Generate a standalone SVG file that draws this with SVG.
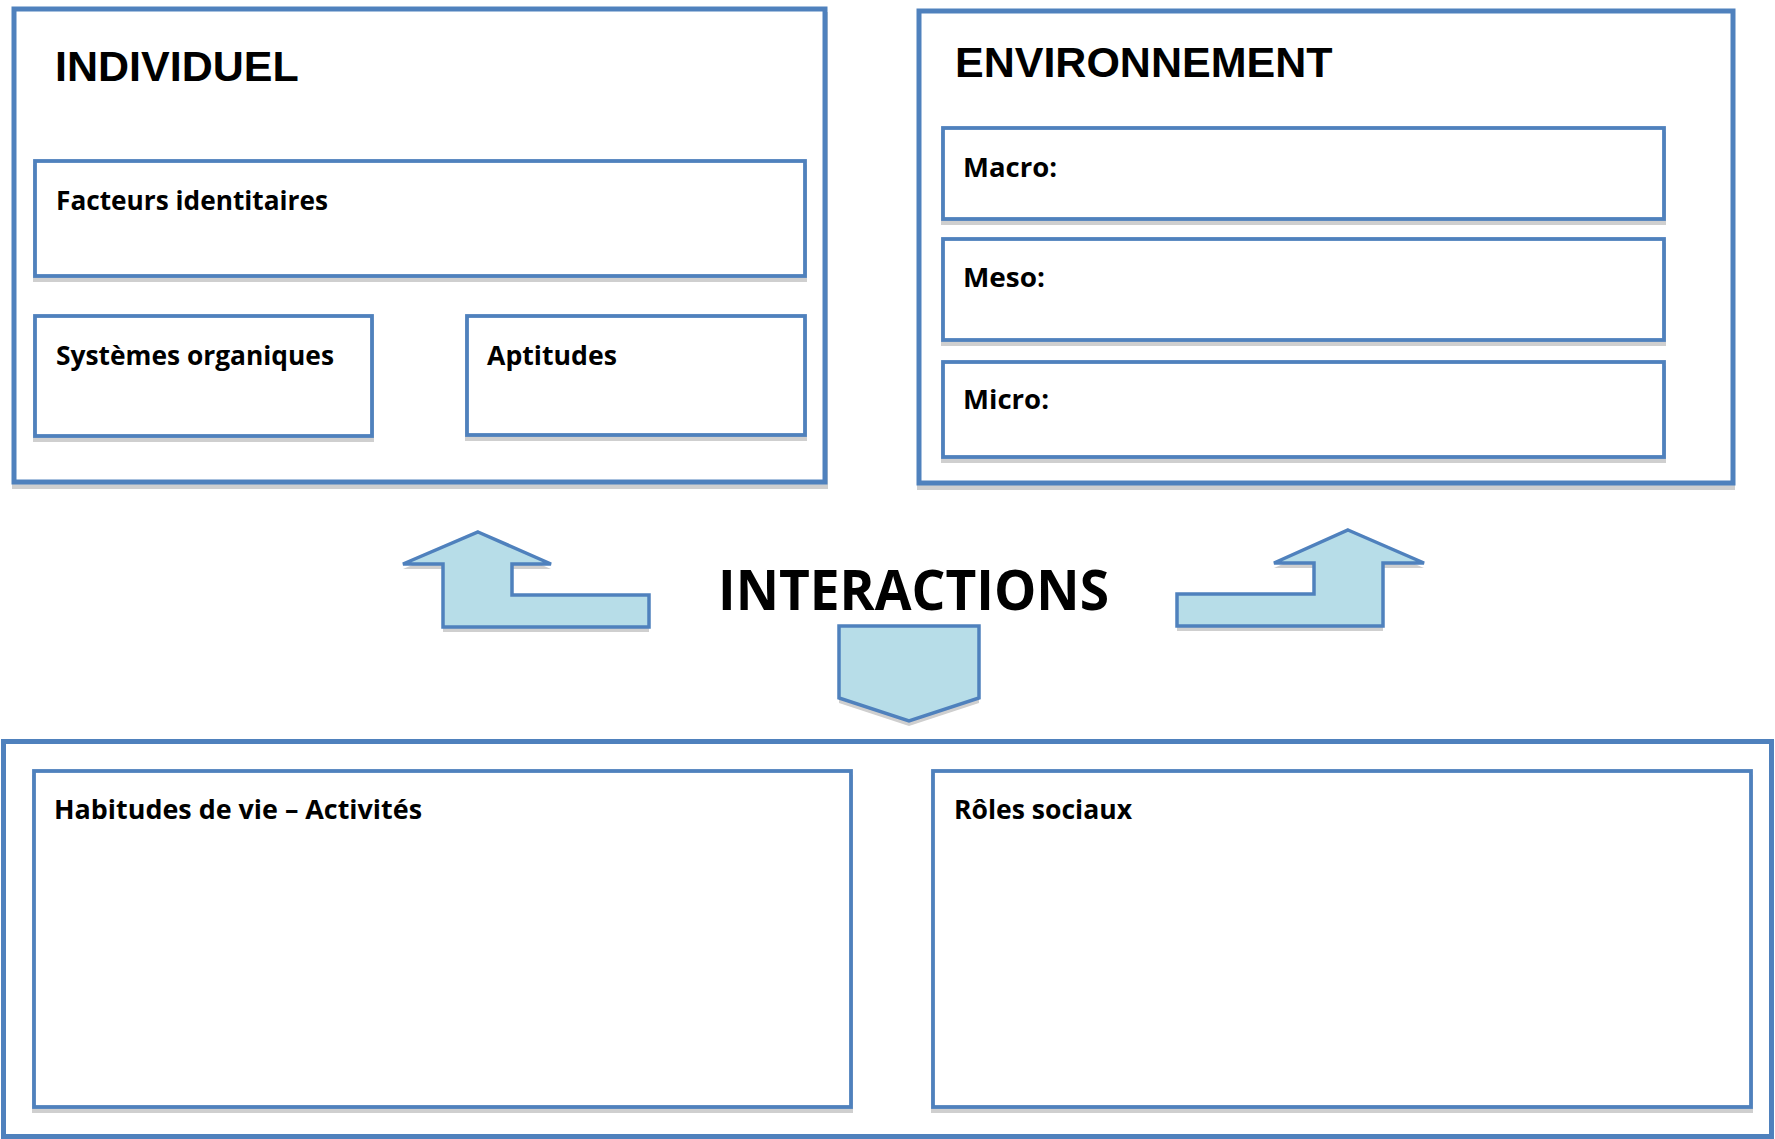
<svg xmlns="http://www.w3.org/2000/svg" width="1775" height="1139" viewBox="0 0 1775 1139">
<style>
.outer{fill:#fff;stroke:#4F81BD;stroke-width:5}
.inner{fill:#fff;stroke:#4F81BD;stroke-width:3.8}
.shadow{fill:#cfcfcf;stroke:none}
.arrow{fill:#B7DDE8;stroke:#4F81BD;stroke-width:3.5;stroke-linejoin:miter}
.head{font-family:"Liberation Sans",Arial,sans-serif;font-weight:700;font-size:43px;fill:#000}
.lbl{font-family:"Open Sans","Noto Sans",sans-serif;font-weight:700;font-size:27px;fill:#000}
.big{font-family:"Open Sans","Noto Sans",sans-serif;font-weight:700;font-size:55px;fill:#000}
</style>
<rect width="1775" height="1139" fill="#fff"/>

<g id="individuel">
<rect class="shadow" x="12" y="12" width="816" height="477"/>
<rect class="outer" x="14" y="9" width="811" height="473"/>
<text class="head" x="55" y="81">INDIVIDUEL</text>
</g>
<g id="facteurs">
<rect class="shadow" x="33" y="165" width="774" height="117"/>
<rect class="inner" x="35" y="161" width="770" height="115"/>
<text class="lbl" x="56" y="210" textLength="272" lengthAdjust="spacingAndGlyphs">Facteurs identitaires</text>
</g>
<g id="systemes">
<rect class="shadow" x="33" y="320" width="341" height="122"/>
<rect class="inner" x="35" y="316" width="337" height="120"/>
<text class="lbl" x="56" y="365" textLength="278" lengthAdjust="spacingAndGlyphs">Systèmes organiques</text>
</g>
<g id="aptitudes">
<rect class="shadow" x="465" y="320" width="342" height="121"/>
<rect class="inner" x="467" y="316" width="338" height="119"/>
<text class="lbl" x="487" y="365" textLength="130" lengthAdjust="spacingAndGlyphs">Aptitudes</text>
</g>

<g id="environnement">
<rect class="shadow" x="917" y="14" width="818" height="476"/>
<rect class="outer" x="919" y="11" width="814" height="472"/>
<text class="head" x="955" y="77">ENVIRONNEMENT</text>
</g>
<g id="macro">
<rect class="shadow" x="941" y="132" width="725" height="93"/>
<rect class="inner" x="943" y="128" width="721" height="91"/>
<text class="lbl" x="963" y="177" textLength="94" lengthAdjust="spacingAndGlyphs">Macro:</text>
</g>
<g id="meso">
<rect class="shadow" x="941" y="243" width="725" height="103"/>
<rect class="inner" x="943" y="239" width="721" height="101"/>
<text class="lbl" x="963" y="287" textLength="82" lengthAdjust="spacingAndGlyphs">Meso:</text>
</g>
<g id="micro">
<rect class="shadow" x="941" y="366" width="725" height="97"/>
<rect class="inner" x="943" y="362" width="721" height="95"/>
<text class="lbl" x="963" y="409" textLength="86" lengthAdjust="spacingAndGlyphs">Micro:</text>
</g>

<g id="interactions">
<text class="big" x="718" y="610" textLength="391" lengthAdjust="spacingAndGlyphs">INTERACTIONS</text>
</g>

<g id="connectors">
<polygon class="shadow" points="478,537 551,569 512,569 512,600 649,600 649,632 443,632 443,569 403,569"/>
<polygon class="arrow" points="478,532 551,564 512,564 512,595 649,595 649,627 443,627 443,564 403,564"/>
<polygon class="shadow" points="1348,535 1424,568 1383,568 1383,631 1177,631 1177,599 1314,599 1314,568 1274,568"/>
<polygon class="arrow" points="1348,530 1424,563 1383,563 1383,626 1177,626 1177,594 1314,594 1314,563 1274,563"/>
<polygon class="shadow" points="839,631 979,631 979,703 909,726 839,703"/>
<polygon class="arrow" points="839,626 979,626 979,698 909,721 839,698"/>
</g>

<g id="participation">
<rect class="outer" x="3.5" y="741.5" width="1768" height="395"/>
</g>
<g id="habitudes">
<rect class="shadow" x="32" y="775" width="821" height="338"/>
<rect class="inner" x="34" y="771" width="817" height="336"/>
<text class="lbl" x="54" y="819" textLength="368" lengthAdjust="spacingAndGlyphs">Habitudes de vie – Activités</text>
</g>
<g id="roles">
<rect class="shadow" x="931" y="775" width="822" height="338"/>
<rect class="inner" x="933" y="771" width="818" height="336"/>
<text class="lbl" x="954" y="819" textLength="178" lengthAdjust="spacingAndGlyphs">Rôles sociaux</text>
</g>
</svg>
